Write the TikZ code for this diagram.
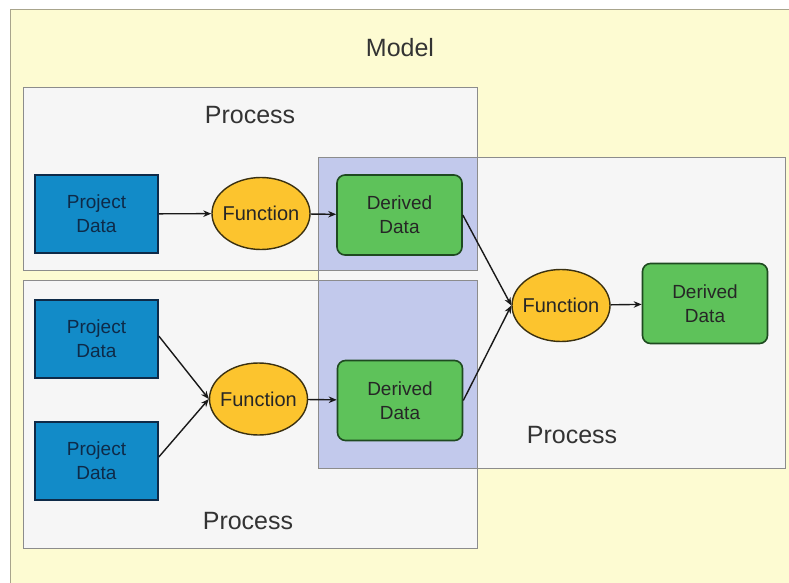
\documentclass[tikz,border=0pt]{standalone}
\usepackage{fontspec}
\setmainfont{Liberation Sans}
\usetikzlibrary{shapes.geometric,arrows.meta}
\definecolor{modelbg}{HTML}{FDFBD2}
\definecolor{modelline}{HTML}{A8A48C}
\definecolor{procbg}{HTML}{F6F6F6}
\definecolor{procline}{HTML}{8C8C8C}
\definecolor{overlap}{HTML}{C2C9EC}
\definecolor{projblue}{HTML}{128BC8}
\definecolor{projline}{HTML}{0E2A48}
\definecolor{dergreen}{HTML}{5EC25A}
\definecolor{derline}{HTML}{1E4A20}
\definecolor{funcorange}{HTML}{FCC42E}
\definecolor{funcline}{HTML}{3A3010}
\tikzset{
  procbox/.style={fill=procbg, draw=procline, line width=1pt},
  overlapbox/.style={fill=overlap, draw=procline, line width=1pt},
  proclabel/.style={font=\fontsize{25}{28}\selectfont, text=black!80},
  projdata/.style={rectangle, fill=projblue, draw=projline, line width=1.6pt,
    minimum width=123pt, minimum height=78pt, align=center,
    font=\fontsize{19}{24}\selectfont, text=projline},
  derdata/.style={rectangle, rounded corners=8pt, fill=dergreen, draw=derline,
    line width=1.6pt, minimum width=125pt, minimum height=80pt, align=center,
    font=\fontsize{19}{24}\selectfont, text=black!85},
  func/.style={ellipse, fill=funcorange, draw=funcline, line width=1.4pt,
    minimum width=98pt, minimum height=72pt, inner xsep=-12pt, inner ysep=0pt,
    font=\fontsize{20}{24}\selectfont, text=black!85},
  flow/.style={-{Stealth[length=8pt,width=6.5pt]}, line width=1.4pt, draw=black!90}
}
\begin{document}
\begin{tikzpicture}[x=1pt,y=-1pt]
\useasboundingbox (0,0) rectangle (789,583);
\fill[white] (0,0) rectangle (789,583);
% outer model frame
\begin{scope}
  \clip (0,0) rectangle (789,583);
  \draw[fill=modelbg, draw=modelline, line width=1pt] (10,10) rectangle (800,600);
\end{scope}
\node[proclabel] (modellabel) at (400,48) {Model};
% process frames
\draw[procbox] (318,157) rectangle (785,468);
\draw[procbox] (23,88) rectangle (477,270);
\draw[procbox] (23,280) rectangle (477,548);
% shared regions
\draw[overlapbox] (318,157) rectangle (477,270);
\draw[overlapbox] (318,280) rectangle (477,468);
\node[proclabel] (plabelA) at (250,115) {Process};
\node[proclabel] (plabelB) at (248,521) {Process};
\node[proclabel] (plabelC) at (572,435) {Process};
% nodes
\node[projdata] (pd1) at (96.5,214) {Project\\Data};
\node[projdata] (pd2) at (96.5,339) {Project\\Data};
\node[projdata] (pd3) at (96.5,461) {Project\\Data};
\node[func] (f1) at (261,213.5) {Function};
\node[func] (f2) at (258.5,399) {Function};
\node[func] (f3) at (561,305.5) {Function};
\node[derdata] (d1) at (399.5,215) {Derived\\Data};
\node[derdata] (d2) at (400,400.5) {Derived\\Data};
\node[derdata] (d3) at (705,303.5) {Derived\\Data};
% connectors
\draw[flow] (pd1) -- (f1);
\draw[flow] (f1) -- (d1);
\draw[flow] (pd2.east) ++(0,-3) -- (f2.west);
\draw[flow] (pd3.east) ++(0,-4) -- (f2.west);
\draw[flow] (f2) -- (d2);
\draw[flow] (d1.east) -- (f3.west);
\draw[flow] (d2.east) -- (f3.west);
\draw[flow] (f3) -- (d3);
\end{tikzpicture}
\end{document}
